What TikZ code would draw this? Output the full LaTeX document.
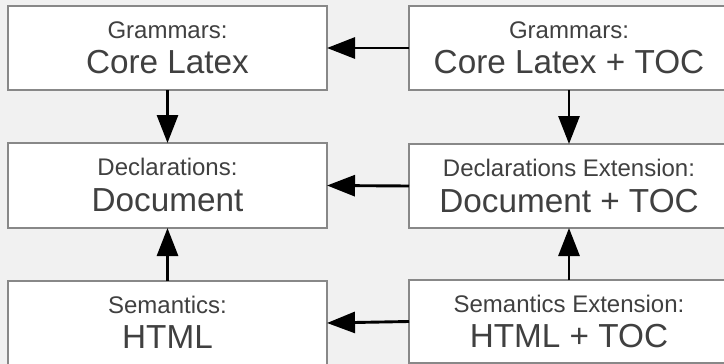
\documentclass[tikz,border=0pt]{standalone}
\usepackage{fontspec}
\setmainfont{Liberation Sans}
\usetikzlibrary{arrows.meta}
\definecolor{bg}{HTML}{F1F1F1}
\definecolor{bordergray}{HTML}{888888}
\definecolor{txt}{HTML}{404040}
\begin{document}
\begin{tikzpicture}[x=1pt,y=-1pt,
  box/.style={draw=bordergray,line width=2pt,fill=white,minimum width=319pt,minimum height=84pt,inner sep=0pt,outer sep=0pt},
  smalltext/.style={text=txt,font=\fontsize{24}{28}\selectfont,anchor=base,inner sep=0pt},
  bigtext/.style={text=txt,font=\fontsize{33.3}{38}\selectfont,anchor=base,inner sep=0pt},
  arr/.style={line width=2.9pt,-{Triangle[length=28pt,width=21pt]}}]
\useasboundingbox (0,0) rectangle (724,364);
\fill[bg] (0,0) rectangle (724,364);
\clip (0,0) rectangle (724,364);
% boxes
\node[box] (g1) at (167.5,48) {};
\node[box,minimum width=320pt] (g2) at (569,48) {};
\node[box,minimum height=85pt] (d1) at (167.5,185.5) {};
\node[box,minimum width=320pt] (d2) at (569,186) {};
\node[box] (s1) at (167.5,323) {};
\node[box,minimum width=320pt,minimum height=83pt] (s2) at (569,321.5) {};
% texts
\node[smalltext] (g1a) at ([yshift=-32pt]g1.north) {Grammars:};
\node[bigtext]   (g1b) at ([yshift=-68pt]g1.north) {Core Latex};
\node[smalltext] (g2a) at ([yshift=-32pt]g2.north) {Grammars:};
\node[bigtext]   (g2b) at ([yshift=-68pt]g2.north) {Core Latex + TOC};
\node[smalltext] (d1a) at ([yshift=-32pt]d1.north) {Declarations:};
\node[bigtext]   (d1b) at ([yshift=-68pt]d1.north) {Document};
\node[smalltext] (d2a) at ([yshift=-32pt]d2.north) {Declarations Extension:};
\node[bigtext]   (d2b) at ([yshift=-68pt]d2.north) {Document + TOC};
\node[smalltext] (s1a) at ([yshift=-32pt]s1.north) {Semantics:};
\node[bigtext]   (s1b) at ([yshift=-67pt]s1.north) {HTML};
\node[smalltext] (s2a) at ([yshift=-32pt]s2.north) {Semantics Extension:};
\node[bigtext]   (s2b) at ([yshift=-67pt]s2.north) {HTML + TOC};
% connectors
\draw[arr] (g2.west) -- (g1.east);
\draw[arr] (d2.west) -- (d1.east);
\draw[arr] (s2.west) -- (s1.east);
\draw[arr] (g1.south) -- (d1.north);
\draw[arr] (g2.south) -- (d2.north);
\draw[arr] (s1.north) -- (d1.south);
\draw[arr] (s2.north) -- (d2.south);
\end{tikzpicture}
\end{document}
